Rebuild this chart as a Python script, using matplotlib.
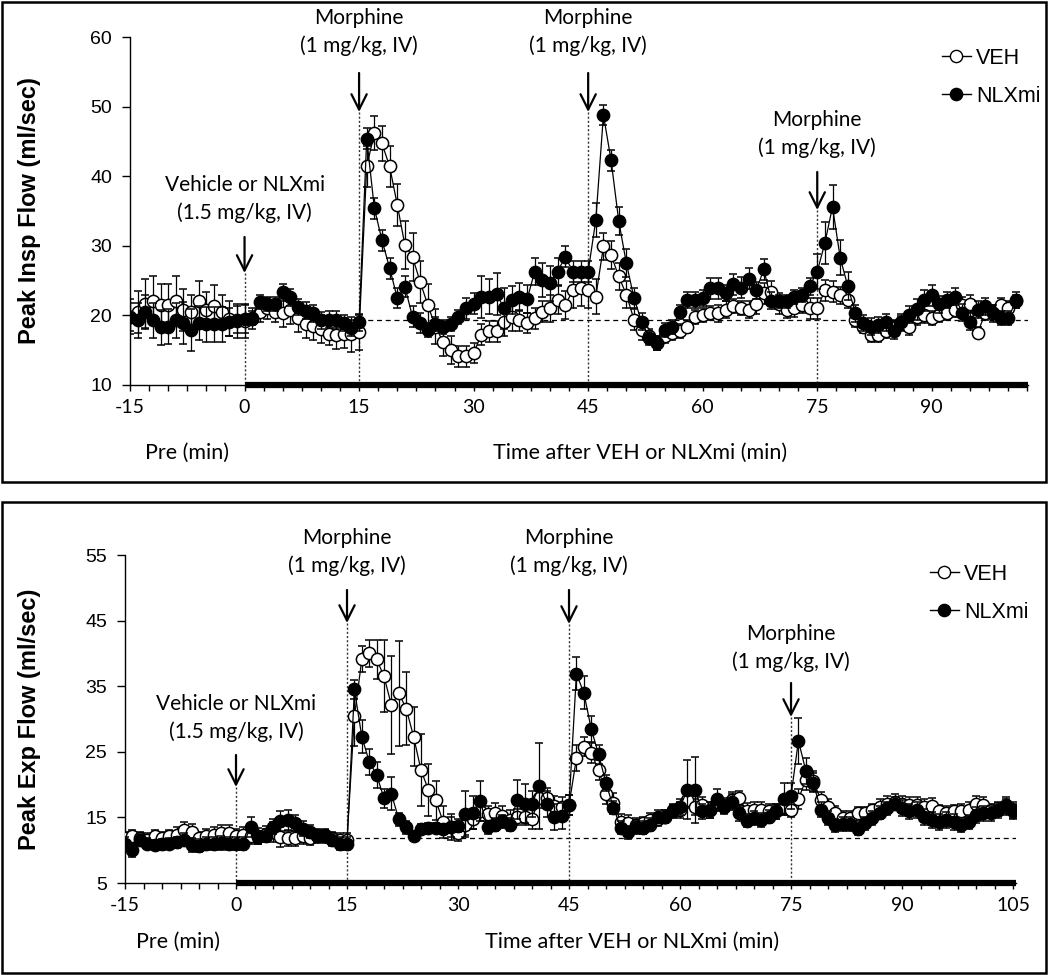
import numpy as np
import matplotlib
matplotlib.use('Agg')
import matplotlib.pyplot as plt
from matplotlib.lines import Line2D
from matplotlib.patches import Rectangle
from matplotlib import transforms

plt.rcParams['font.family'] = ['Liberation Sans', 'DejaVu Sans']

# ---- data (1-min bins) ----
insp_minutes = np.arange(-15, 102)
exp_minutes = np.arange(-15, 106)

# Peak inspiratory flow (ml/sec)
insp_veh = [19.8, 20.5, 21.7, 22.1, 21.5, 21.5, 22.1, 20.8, 20.5, 22.0, 20.8, 21.3, 20.5, 19.5, 19.2, 19.2,
            19.5, 20.5, 21.0, 20.5, 20.4, 20.8, 19.6, 18.7, 18.5, 18.0, 17.3, 17.2, 17.3, 17.3, 17.6,
            41.4, 46.2, 44.7, 41.4, 35.9, 30.1, 28.4, 24.8, 21.5, 18.4, 16.2, 15.0, 14.1, 14.1, 14.6,
            17.2, 17.7, 17.7, 19.1, 19.8, 19.3, 18.9, 19.6, 20.5, 21.0, 22.2, 21.5, 23.6, 23.9, 23.6,
            22.7, 29.9, 28.7, 25.6, 23.0, 19.4, 17.9, 17.0, 16.0, 17.0, 17.5, 17.7, 18.4, 19.8, 20.1,
            20.3, 20.3, 20.8, 21.3, 21.1, 20.8, 21.7, 23.2, 23.4, 21.7, 20.8, 21.0, 21.5, 21.0, 21.0,
            23.6, 23.4, 22.9, 22.2, 19.3, 18.4, 17.2, 17.2, 17.7, 18.4, 18.9, 18.4, 19.8, 20.1, 19.6,
            20.1, 20.3, 20.8, 21.5, 21.7, 17.5, 20.3, 20.5, 21.5, 21.0, 22.2]
insp_veh_err = [2.5, 3.0, 3.5, 3.5, 3.0, 3.0, 3.5, 3.0, 2.5, 3.0, 2.5, 3.0, 2.5, 2.5, 2.5, 2.5,
                1.5, 1.5, 1.5, 1.5, 2.0, 2.0, 2.0, 2.0, 2.0, 2.0, 1.5, 2.0, 2.0, 2.5, 2.5,
                3.0, 2.5, 2.5, 3.0, 3.0, 3.5, 3.5, 3.0, 3.0, 2.5, 2.0, 2.0, 1.5, 1.5, 1.5,
                1.5, 1.5, 1.5, 2.0, 2.0, 1.5, 1.5, 1.5, 1.5, 2.0, 2.0, 2.0, 2.5, 2.5, 2.5,
                2.5, 2.0, 2.0, 2.0, 2.0, 1.5, 1.5, 1.0, 1.0, 1.0, 1.0, 1.0, 1.0, 1.0, 1.0,
                1.0, 1.2, 1.2, 1.0, 1.0, 1.2, 1.5, 1.5, 1.5, 1.5, 1.2, 1.2, 1.2, 1.5, 1.5,
                1.5, 1.5, 1.2, 1.2, 1.0, 1.0, 1.0, 1.0, 1.0, 1.0, 1.0, 1.2, 1.2, 1.2, 1.0,
                1.0, 1.0, 1.0, 1.2, 1.2, 0.8, 1.0, 1.0, 1.0, 1.0, 1.2]
insp_nlx = [19.8, 19.3, 20.5, 19.3, 18.3, 18.4, 19.3, 18.9, 17.9, 18.9, 18.7, 18.7, 18.7, 19.1, 19.4, 19.5,
            19.6, 21.9, 21.7, 21.6, 23.3, 22.6, 21.2, 20.7, 20.3, 19.3, 19.4, 19.4, 18.9, 18.2, 19.0,
            45.4, 35.4, 30.8, 26.8, 22.5, 24.1, 19.8, 18.9, 17.9, 18.7, 18.3, 18.7, 19.8, 21.0, 21.7,
            22.6, 22.7, 23.1, 21.0, 22.2, 22.6, 22.3, 26.3, 25.1, 24.6, 26.3, 28.4, 26.3, 26.3, 26.3,
            33.7, 48.8, 42.3, 33.6, 27.5, 22.5, 19.1, 16.8, 16.0, 17.9, 18.3, 20.5, 22.2, 22.2, 22.5,
            23.9, 23.9, 23.2, 24.5, 24.0, 25.3, 23.6, 26.6, 22.1, 22.0, 22.0, 22.6, 22.9, 24.2, 26.3,
            30.4, 35.6, 28.3, 24.2, 20.3, 18.9, 18.4, 18.6, 19.0, 17.8, 19.0, 20.1, 20.9, 22.2, 22.9,
            21.6, 22.2, 22.7, 20.4, 19.1, 20.8, 21.3, 20.3, 19.6, 19.6, 22.0]
insp_nlx_err = [2.0, 2.5, 2.5, 2.5, 2.5, 2.5, 2.5, 3.0, 3.0, 2.5, 2.5, 2.5, 2.5, 2.0, 2.0, 2.0,
                1.0, 1.0, 1.0, 1.0, 1.2, 1.2, 1.2, 1.2, 1.2, 1.2, 1.2, 1.2, 1.2, 1.2, 1.2,
                1.5, 1.5, 1.5, 1.5, 1.5, 1.5, 1.5, 1.5, 1.0, 1.0, 1.0, 1.0, 1.0, 1.5, 1.5,
                3.0, 2.5, 3.0, 3.0, 2.0, 2.0, 2.0, 2.0, 2.5, 2.5, 2.0, 1.5, 1.5, 1.5, 1.5,
                2.5, 1.5, 1.5, 2.0, 2.0, 1.5, 1.2, 1.0, 1.0, 1.0, 1.0, 1.0, 1.2, 1.2, 1.2,
                1.5, 1.5, 1.2, 1.5, 1.5, 1.5, 1.2, 1.5, 1.2, 1.0, 1.0, 1.0, 1.0, 1.2, 2.5,
                3.0, 3.2, 2.5, 2.0, 1.2, 1.2, 1.2, 1.2, 1.2, 1.2, 1.2, 1.2, 1.5, 1.5, 1.5,
                1.2, 1.2, 1.2, 1.2, 1.2, 1.2, 1.2, 1.2, 1.0, 1.0, 1.0]

# Peak expiratory flow (ml/sec)
exp_veh = [11.8, 12.1, 11.8, 11.6, 12.1, 11.8, 12.1, 12.3, 13.1, 12.8, 11.8, 12.1, 12.3, 12.6, 12.6, 12.1,
           12.3, 12.1, 12.2, 12.5, 12.8, 12.0, 11.8, 11.8, 12.1, 11.8, 12.1, 12.3, 11.8, 11.6, 11.6,
           30.4, 39.1, 40.0, 39.1, 36.5, 32.1, 33.9, 31.6, 27.3, 22.2, 19.2, 17.6, 14.3, 13.5, 12.6,
           13.8, 14.8, 15.9, 15.5, 15.7, 15.2, 14.6, 15.1, 15.1, 14.8, 18.0, 18.0, 16.8, 16.6, 16.9,
           24.0, 25.8, 24.8, 22.2, 18.6, 17.2, 14.3, 14.1, 13.9, 14.1, 14.6, 14.7, 15.1, 15.9, 16.1,
           17.7, 16.6, 16.9, 16.1, 17.1, 16.7, 17.7, 17.9, 16.0, 16.1, 16.1, 15.9, 15.9, 16.6, 16.2,
           17.8, 20.7, 20.6, 17.7, 16.6, 15.7, 14.9, 14.9, 15.6, 15.6, 16.1, 16.6, 17.1, 17.4, 17.1,
           16.9, 16.9, 16.6, 16.7, 15.9, 15.7, 15.9, 16.0, 16.1, 17.1, 16.9, 16.1, 16.2, 16.6, 16.1]
exp_veh_err = [1.0, 1.0, 1.0, 1.0, 1.0, 1.0, 1.0, 1.2, 1.2, 1.2, 1.0, 1.2, 1.2, 1.2, 1.2, 1.2,
               1.2, 1.2, 1.2, 1.2, 1.5, 1.5, 1.2, 1.2, 1.2, 1.0, 1.0, 1.0, 1.0, 1.0, 1.0,
               4.5, 2.0, 2.0, 3.0, 5.5, 7.5, 8.0, 5.5, 4.5, 5.5, 4.0, 3.0, 2.5, 2.0, 1.2,
               1.5, 1.5, 1.5, 1.2, 1.5, 1.5, 1.5, 1.2, 1.2, 1.5, 1.5, 1.5, 1.5, 1.5, 1.5,
               2.0, 1.5, 1.5, 1.5, 1.5, 1.5, 1.2, 1.2, 1.0, 1.0, 1.0, 1.0, 1.0, 1.0, 1.2,
               1.2, 1.2, 1.2, 1.2, 1.2, 1.2, 1.2, 1.2, 1.2, 1.2, 1.2, 1.2, 1.2, 1.2, 1.2,
               1.5, 1.5, 1.5, 1.2, 1.2, 1.0, 1.0, 1.0, 1.0, 1.0, 1.0, 1.2, 1.2, 1.2, 1.2,
               1.2, 1.2, 1.2, 1.2, 1.0, 1.0, 1.0, 1.0, 1.2, 1.2, 1.2, 1.0, 1.0, 1.2, 1.2]
exp_nlx = [11.0, 10.0, 11.6, 11.0, 10.8, 10.9, 11.0, 11.2, 11.6, 10.8, 10.7, 11.0, 11.0, 11.1, 11.0, 11.0,
           11.0, 13.5, 12.0, 12.2, 13.6, 14.4, 14.6, 14.1, 13.3, 12.8, 12.3, 12.1, 11.6, 11.0, 11.0,
           34.5, 27.3, 23.5, 21.5, 17.9, 18.6, 14.7, 13.5, 12.2, 13.2, 13.4, 13.4, 13.2, 13.5, 13.7,
           15.5, 15.7, 17.5, 13.5, 13.9, 14.4, 13.9, 17.7, 17.1, 17.1, 19.8, 17.1, 15.1, 15.2, 16.9,
           36.9, 34.0, 28.5, 24.6, 20.2, 16.5, 13.4, 12.7, 13.5, 13.4, 13.9, 15.1, 15.1, 16.1, 16.6,
           19.2, 19.2, 15.9, 16.1, 17.8, 16.6, 17.4, 15.7, 14.5, 14.9, 14.6, 15.1, 15.9, 17.8, 18.3,
           26.7, 22.1, 20.3, 16.2, 14.9, 13.8, 14.0, 14.0, 13.3, 14.1, 14.9, 15.7, 16.4, 17.1, 16.4,
           15.9, 16.1, 15.1, 14.6, 14.3, 14.6, 14.3, 13.8, 14.3, 15.4, 15.6, 15.6, 16.1, 16.9, 15.9]
exp_nlx_err = [1.0, 1.0, 0.8, 0.8, 0.8, 0.8, 0.8, 0.8, 1.0, 1.0, 1.0, 1.0, 1.0, 1.0, 1.0, 1.0,
               1.0, 1.5, 1.0, 1.0, 1.2, 1.5, 1.5, 1.2, 1.2, 1.0, 1.0, 1.0, 1.0, 1.0, 1.0,
               1.5, 2.5, 2.0, 2.0, 1.5, 2.5, 1.0, 1.0, 0.8, 0.8, 0.8, 0.8, 0.8, 1.5, 1.0,
               3.5, 2.5, 3.0, 1.0, 1.0, 1.0, 1.0, 3.0, 3.0, 2.0, 6.5, 2.0, 2.0, 2.0, 1.5,
               2.5, 2.5, 2.0, 1.5, 1.2, 1.0, 1.0, 1.0, 1.0, 1.0, 1.0, 1.0, 1.0, 1.0, 1.2,
               4.5, 5.0, 1.2, 1.2, 1.5, 1.0, 1.2, 1.2, 1.0, 1.0, 1.0, 1.0, 1.2, 2.5, 2.0,
               3.5, 2.0, 1.5, 1.2, 1.0, 1.0, 1.0, 1.0, 1.0, 1.0, 1.0, 1.0, 1.0, 1.0, 1.2,
               1.2, 1.2, 1.2, 1.2, 1.2, 1.2, 1.2, 1.0, 1.0, 1.2, 1.2, 1.2, 1.2, 1.2, 1.2]

insp_baseline = 19.3
exp_baseline = 11.9

veh_note = 'Vehicle or NLXmi\n(1.5 mg/kg, IV)'
mor_note = 'Morphine\n(1 mg/kg, IV)'

W, H = 1050, 975


def fx(px):
    return px / W


def fy(px):
    return 1 - px / H


fig = plt.figure(figsize=(W / 100, H / 100), dpi=100)

# panel frames
fig.add_artist(Rectangle((fx(2), fy(482)), fx(1046) - fx(2), fy(2) - fy(482),
                         transform=fig.transFigure, fill=False, lw=1.8, ec='black'))
fig.add_artist(Rectangle((fx(2), fy(973)), fx(1046) - fx(2), fy(502) - fy(973),
                         transform=fig.transFigure, fill=False, lw=1.8, ec='black'))


def draw_panel(left, right, top, bottom, t, veh, veh_err, nlx, nlx_err, ylim, yticks,
               xmax, xlabels_to, baseline, notes, legend_xy, ylabel, lab_y, pre_x, post_x):
    ax = fig.add_axes([fx(left), fy(bottom), fx(right) - fx(left), fy(top) - fy(bottom)])
    style = dict(fmt='-o', color='black', lw=0.9, ms=8.8, mec='black', mew=1.1,
                 elinewidth=0.9, ecolor='black', capsize=3, capthick=0.9)
    ax.errorbar(t, veh, yerr=veh_err, mfc='white', zorder=3, **style)
    ax.errorbar(t, nlx, yerr=nlx_err, mfc='black', zorder=4, **style)

    ax.set_xlim(-15, xmax)
    ax.set_ylim(*ylim)
    for s in ['top', 'right']:
        ax.spines[s].set_visible(False)
    ax.spines['left'].set_linewidth(1.0)
    ax.spines['bottom'].set_linewidth(1.0)
    # thick bar marking the post-injection period
    ax.plot([0, xmax], [ylim[0], ylim[0]], color='black', lw=4.5, clip_on=False,
            solid_capstyle='butt', zorder=6)

    ax.set_yticks(yticks)
    ax.set_yticklabels([str(v) for v in yticks], fontsize=14)
    ax.tick_params(axis='y', direction='out', length=6, width=1, pad=7)
    xt = list(range(-15, xlabels_to + 1, 15))
    ax.set_xticks(xt)
    ax.set_xticklabels([str(v) for v in xt], fontsize=14, family='Lato')
    ax.set_xticks(np.arange(-15, xmax, 2.5), minor=True)
    ax.tick_params(axis='x', which='both', direction='out', length=4, width=1, pad=6)

    ax.plot([15, xmax], [baseline, baseline], color='black', lw=0.9, ls=(0, (4, 3)), zorder=2)

    blend = transforms.blended_transform_factory(ax.transData, fig.transFigure)
    for t0, txt, ty, a_top, a_tip in notes:
        ax.text(t0, fy(ty), txt, transform=blend, ha='center', va='center',
                fontsize=15, family='Lato', linespacing=1.4)
        ax.annotate('', xy=(t0, fy(a_tip)), xycoords=blend, xytext=(t0, fy(a_top)),
                    textcoords=blend,
                    arrowprops=dict(arrowstyle='->,head_length=0.5,head_width=0.25',
                                    lw=1.6, color='black', shrinkA=0, shrinkB=0,
                                    mutation_scale=22))
        ax.plot([t0, t0], [fy(a_tip), fy(bottom)], transform=blend, color='#333333',
                lw=1.0, ls=(0, (1.5, 1.5)), zorder=2, clip_on=False)

    handles = [Line2D([], [], color='black', lw=1, marker='o', ms=8.8, mfc='white', mec='black'),
               Line2D([], [], color='black', lw=1, marker='o', ms=8.8, mfc='black', mec='black')]
    fig.legend(handles, ['VEH', 'NLXmi'], loc='upper left',
               bbox_to_anchor=(fx(legend_xy[0]), fy(legend_xy[1])),
               bbox_transform=fig.transFigure, frameon=False, fontsize=15.5,
               handlelength=1.35, handletextpad=0.25, labelspacing=0.8, borderpad=0)

    fig.text(fx(30), fy((top + bottom) / 2), ylabel, rotation=90, ha='center', va='center',
             fontsize=17, fontweight='bold')
    fig.text(fx(pre_x), fy(lab_y), 'Pre (min)', ha='center', va='center',
             fontsize=15.5, family='Lato')
    fig.text(fx(post_x), fy(lab_y), 'Time after VEH or NLXmi (min)', ha='center',
             va='center', fontsize=15.5, family='Lato')
    return ax


draw_panel(130, 1028, 37, 385, insp_minutes, insp_veh, insp_veh_err, insp_nlx, insp_nlx_err,
           (10, 60), list(range(10, 61, 10)), 102.6, 90, insp_baseline,
           [(0, veh_note, 199, 237, 273),
            (15, mor_note, 32, 73, 112),
            (45, mor_note, 32, 73, 112),
            (75, mor_note, 134, 172, 210)],
           (931, 37), 'Peak Insp Flow (ml/sec)', 453, 187, 640)

draw_panel(125, 1016, 555, 883, exp_minutes, exp_veh, exp_veh_err, exp_nlx, exp_nlx_err,
           (5, 55), list(range(5, 56, 10)), 105.4, 105, exp_baseline,
           [(0, veh_note, 718, 755, 787),
            (15, mor_note, 552, 590, 623),
            (45, mor_note, 552, 590, 624),
            (75, mor_note, 648, 683, 717)],
           (919, 553), 'Peak Exp Flow (ml/sec)', 942, 178, 632)

fig.savefig('out.png', dpi=100)
